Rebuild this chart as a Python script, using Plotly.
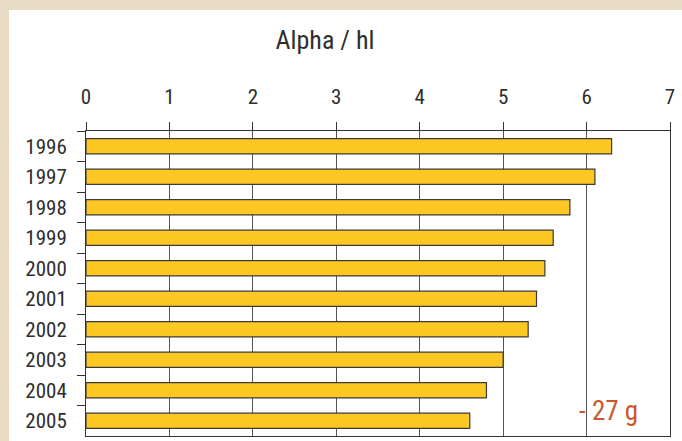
import plotly.graph_objects as go

years = ["1996", "1997", "1998", "1999", "2000", "2001", "2002", "2003", "2004", "2005"]
values = [6.3, 6.1, 5.8, 5.6, 5.5, 5.4, 5.3, 5.0, 4.8, 4.6]
x_ticks = [0, 1, 2, 3, 4, 5, 6, 7]
title_text = "Alpha / hl"
note_text = "- 27 g"

FONT = "Liberation Sans Narrow, Arial Narrow, Roboto Condensed, sans-serif"
TXT = "#2e2e2e"

fig = go.Figure(
    go.Bar(
        x=values,
        y=years,
        orientation="h",
        width=0.5,
        marker=dict(color="#FDC823", line=dict(color="#3a3a3a", width=1.2)),
        hoverinfo="skip",
    )
)

W, H = 682, 441
L, R, T, B = 86, 12, 131, 5
pw, ph = W - L - R, H - T - B


def px_x(p):
    return (p - L) / pw


def px_y(p):
    return (H - B - p) / ph


# beige frame and white panel (decorative background)
fig.add_shape(type="rect", xref="paper", yref="paper",
              x0=px_x(9), x1=px_x(W + 2), y0=px_y(H + 2), y1=px_y(10),
              fillcolor="#FFFFFF", line=dict(width=0), layer="below")

fig.update_layout(
    width=W,
    height=H,
    margin=dict(l=L, r=R, t=T, b=B),
    paper_bgcolor="#E8DCC5",
    plot_bgcolor="rgba(0,0,0,0)",
    showlegend=False,
    font=dict(family=FONT, size=21, color=TXT),
    title=dict(text=title_text, x=px_x(325), xref="paper", xanchor="center",
               y=1 - 40 / H, yref="container", yanchor="middle",
               font=dict(family=FONT, size=26, color=TXT)),
    xaxis=dict(
        side="top",
        range=[0, 7],
        tickvals=x_ticks,
        ticks="outside",
        ticklen=8,
        tickwidth=1,
        tickcolor="#333333",
        ticklabelstandoff=10,
        showgrid=True,
        gridcolor="#555555",
        gridwidth=1,
        showline=True,
        linecolor="#333333",
        linewidth=1,
        mirror=True,
        zeroline=False,
        tickfont=dict(family=FONT, size=21, color=TXT),
    ),
    yaxis=dict(
        type="category",
        autorange="reversed",
        tickson="boundaries",
        ticks="outside",
        ticklen=8,
        tickwidth=1,
        tickcolor="#333333",
        showgrid=False,
        showline=True,
        linecolor="#333333",
        linewidth=1,
        mirror=True,
        ticklabelstandoff=14,
        tickfont=dict(family=FONT, size=21, color=TXT),
    ),
    annotations=[
        dict(text=note_text, xref="paper", yref="paper",
             x=px_x(608), y=px_y(411), xanchor="center", yanchor="middle",
             showarrow=False,
             font=dict(family=FONT, size=27, color="#C9572C")),
    ],
)

fig.write_html("out.html")
